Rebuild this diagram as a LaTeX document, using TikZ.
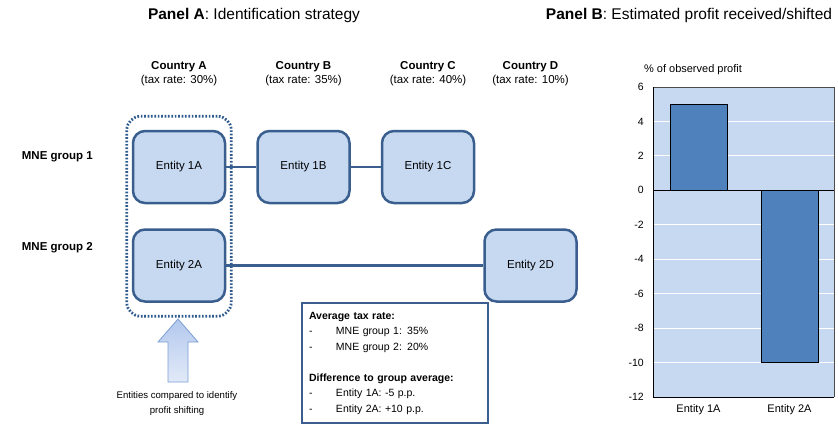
\documentclass[tikz,border=0pt]{standalone}
\usepackage{fontspec}
\setmainfont{Liberation Sans}
\usepackage{tikz}
\usetikzlibrary{positioning, fit, calc}

\definecolor{boxfill}{HTML}{C6D9F1}
\definecolor{boxline}{HTML}{3A5F8F}
\definecolor{dotline}{HTML}{2F5A8E}
\definecolor{barfill}{HTML}{4F81BD}
\definecolor{arrowline}{HTML}{7C9FD3}
\definecolor{arrowtop}{HTML}{B3C8EE}
\definecolor{arrowbot}{HTML}{E2EAF8}

\begin{document}
\begin{tikzpicture}[x=1pt, y=-1pt,
  font=\fontsize{11.5}{14}\selectfont,
  title/.style={font=\fontsize{15.5}{18}\selectfont, inner sep=0pt},
  country/.style={align=center, inner sep=0pt},
  group/.style={font=\fontsize{11.5}{14}\selectfont\bfseries, inner sep=0pt},
  entity/.style={draw=boxline, fill=boxfill, line width=2.5pt,
    rounded corners=12pt, minimum width=92pt, minimum height=72pt,
    inner sep=0pt, font=\fontsize{11.5}{14}\selectfont},
  link/.style={draw=boxline, line width=2.5pt},
  grouping/.style={draw=dotline, line width=2.8pt, rounded corners=14pt,
    dash pattern=on 1.7pt off 1.7pt},
  infobox/.style={draw=boxline, line width=1.2pt, minimum width=186pt,
    minimum height=120pt, text width=172pt, align=left, inner sep=0pt,
    font=\fontsize{10.5}{15.5}\selectfont},
  tick/.style={font=\fontsize{10.5}{12}\selectfont, inner sep=0pt},
  bar/.style={fill=barfill, draw=black, line width=0.8pt}]

  \useasboundingbox (0,0) rectangle (838,424);

  % --- Titles ---
  \node[title] (titleA) at (254,15) {\textbf{Panel A}: Identification strategy};
  \node[title] (titleB) at (689,15) {\textbf{Panel B}: Estimated profit received/shifted};

  % --- Entities ---
  \node[entity] (e1A) at (179,167) {Entity 1A};
  \node[entity, right=30pt of e1A] (e1B) {Entity 1B};
  \node[entity, right=30pt of e1B] (e1C) {Entity 1C};
  \node[entity, below=24pt of e1A] (e2A) {Entity 2A};
  \node[entity, right=257pt of e2A] (e2D) {Entity 2D};

  \draw[link] (e1A) -- (e1B);
  \draw[link] (e1B) -- (e1C);
  \draw[link] (e2A) -- (e2D);

  % --- Countries ---
  \node[country, above=44pt of e1A] (cA) {\textbf{Country A}\\(tax rate: 30\%)};
  \node[country, above=44pt of e1B] (cB) {\textbf{Country B}\\(tax rate: 35\%)};
  \node[country, above=44pt of e1C] (cC) {\textbf{Country C}\\(tax rate: 40\%)};
  \node[country] (cD) at (cC -| e2D) {\textbf{Country D}\\(tax rate: 10\%)};

  % --- Groups ---
  \node[group, anchor=east] (g1) at (93,157) {MNE group 1};
  \node[group, anchor=east] (g2) at (93,248) {MNE group 2};

  % --- Compared entities ---
  \node[grouping, fit=(e1A)(e2A), inner xsep=5pt, inner ysep=13.5pt] (cmp) {};
  \shade[top color=arrowtop, bottom color=arrowbot, draw=arrowline, line width=0.8pt]
    (168,382) -- (168,342) -- (158,342) -- (178,319) -- (198,342)
    -- (188,342) -- (188,382) -- cycle;
  \node[align=center, font=\fontsize{9.6}{15}\selectfont] (note) at (177,404)
    {Entities compared to identify\\profit shifting};

  % --- Average tax rates ---
  \node[infobox] (info) at (395,363) {%
    \textbf{Average tax rate:}\\
    \makebox[27pt][l]{-}MNE group 1: 35\%\\
    \makebox[27pt][l]{-}MNE group 2: 20\%\\[15.5pt]
    \textbf{Difference to group average:}\\
    \makebox[27pt][l]{-}Entity 1A: -5 p.p.\\
    \makebox[27pt][l]{-}Entity 2A: +10 p.p.};

  % ============================================================
  % PANEL B: bar chart, 0 at y=190.33, 17.222 per unit
  % ============================================================
  \fill[boxfill] (653,87) rectangle (834,397);
  \foreach \v in {4,2,-2,-4,-6,-8,-10}{
    \draw[white, line width=1.2pt] (653,{190.33-17.222*\v}) -- (834,{190.33-17.222*\v});
  }
  \foreach \v in {6,4,...,-12}{
    \node[tick, anchor=east] (tick\v) at (644,{190.33-17.222*\v}) {\v};
  }

  % --- Bars ---
  \draw[bar] (670,{190.33-17.222*5}) rectangle (727,190.33);
  \draw[bar] (761,190.33) rectangle (818,{190.33+17.222*10});

  % --- Axes ---
  \draw[gray!60!black, line width=0.8pt] (653,87) -- (834,87) -- (834,397);
  \draw[black, line width=1pt] (653,87) -- (653,397) -- (834,397);
  \draw[black, line width=1pt] (653,190.33) -- (834,190.33);

  \node[tick, font=\fontsize{11}{13}\selectfont] (ylab) at (693,70) {\% of observed profit};
  \node[tick, font=\fontsize{11}{13}\selectfont] (cat1A) at (698.5,410) {Entity 1A};
  \node[tick, font=\fontsize{11}{13}\selectfont] (cat2A) at (789.5,410) {Entity 2A};

\end{tikzpicture}
\end{document}
